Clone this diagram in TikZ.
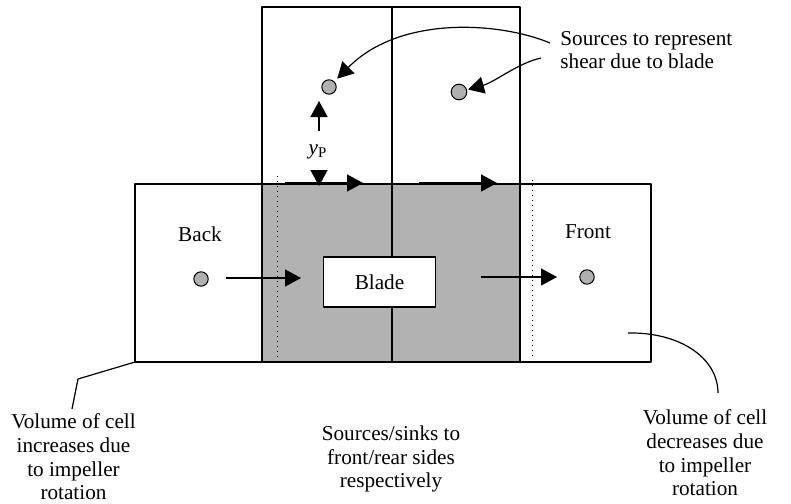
\documentclass[tikz,border=0pt]{standalone}
\usepackage{fontspec}
\setmainfont{Liberation Serif}
\usetikzlibrary{arrows.meta}

\begin{document}
\begin{tikzpicture}[x=0.5pt,y=-0.5pt,line join=round,
  >={Triangle[length=8pt,width=8.5pt]},
  txt/.style={font=\fontsize{10.6}{11.8}\selectfont,align=center,inner sep=0pt},
  src/.style={circle,draw,fill=gray!62,line width=0.5pt,minimum size=7.2pt,inner sep=0pt},
  cellline/.style={line width=0.6pt},
  flow/.style={->,line width=0.7pt},
  callout/.style={line width=0.6pt}]
  \useasboundingbox (0,0) rectangle (791,503);
  % cells
  \coordinate (BL) at (135,362);
  \coordinate (TR) at (651,184);
  \coordinate (UL) at (262,7);
  \coordinate (UR) at (520,362);
  \coordinate (MT) at (392,7);
  \coordinate (MB) at (392,362);
  \fill[gray!60] (262,184) rectangle (UR);
  \draw[cellline] (BL) rectangle (TR);
  \draw[cellline] (UL) rectangle (UR);
  \draw[line width=1pt] (MT) -- (MB);
  \draw[dotted,line width=0.5pt] (277,176) -- (277,362);
  \draw[dotted,line width=0.5pt] (532,180) -- (532,358);
  \node[draw,fill=white,cellline,minimum width=56pt,minimum height=25pt,txt] (blade) at (379.5,282) {Blade};
  % sources
  \node[src] (srcL) at (329,87) {};
  \node[src,minimum size=7.8pt] (srcR) at (459,92) {};
  \node[src] (srcBack) at (201,279) {};
  \node[src] (srcFront) at (587,277) {};
  \node[txt] (back) at (200,234) {Back};
  \node[txt] (front) at (588,232) {Front};
  % flow arrows
  \coordinate (bA) at (226,278);
  \coordinate (bB) at (301,278);
  \coordinate (fA) at (481,277);
  \coordinate (fB) at (557,277);
  \draw[flow] (bA) -- (bB);
  \draw[flow] (fA) -- (fB);
  \coordinate (sA) at (285,183);
  \coordinate (sB) at (363,183);
  \coordinate (sC) at (419,183);
  \coordinate (sD) at (497,183);
  \draw[flow] (sA) -- (sB);
  \draw[flow] (sC) -- (sD);
  % distance y_P
  \coordinate (yA) at (319,131);
  \coordinate (yB) at (319,101);
  \coordinate (yC) at (319,170);
  \coordinate (yD) at (319,186);
  \draw[flow] (yA) -- (yB);
  \draw[flow] (yC) -- (yD);
  \node[txt] (yp) at (318,152) {\textit{y}\textsubscript{P}};
  % callouts
  \node[txt,align=left,anchor=west] (shear) at (560,50) {Sources to represent\\shear due to blade};
  \coordinate (shA) at (550,43);
  \coordinate (shB) at (541,58);
  \draw[callout,->,shorten >=2pt] (shA) .. controls (500,22) and (400,15) .. (srcL);
  \draw[callout,->,shorten >=0.5pt] (shB) .. controls (518,63) and (495,82) .. (srcR);
  \node[txt] (incr) at (73.5,457) {Volume of cell\\increases due\\to impeller\\rotation};
  \coordinate (iA) at (78,379);
  \coordinate (iB) at (72,409);
  \draw[callout] (BL) -- (iA) -- (iB);
  \node[txt] (decr) at (705,453) {Volume of cell\\decreases due\\to impeller\\rotation};
  \coordinate (dA) at (628,333);
  \coordinate (dB) at (718,393);
  \draw[callout] (dA) .. controls (680,332) and (718,358) .. (dB);
  \node[txt] (sinks) at (391,459) {Sources/sinks to\\front/rear sides\\respectively};
\end{tikzpicture}
\end{document}
